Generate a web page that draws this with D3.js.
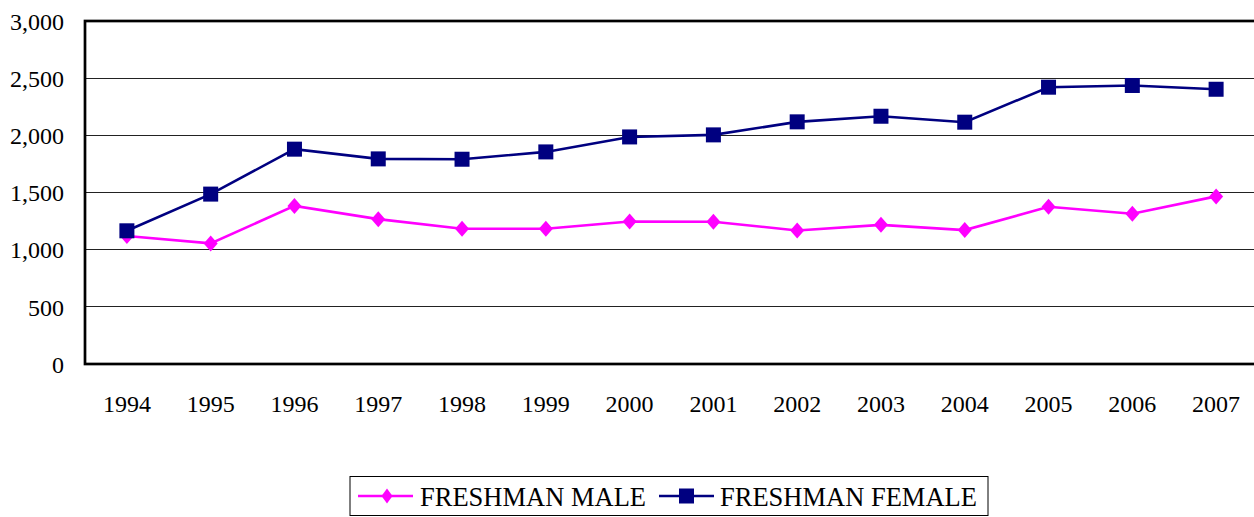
<!DOCTYPE html>
<html><head><meta charset="utf-8">
<script src="https://cdn.jsdelivr.net/npm/d3@7"></script>
<style>
html,body{margin:0;padding:0;background:#fff;overflow:hidden;}
svg{display:block;}
text{font-family:"Liberation Serif","Times New Roman",serif;fill:#000;}
</style></head>
<body>
<svg id="chart" width="1254" height="517"></svg>
<script>
const years = ["1994","1995","1996","1997","1998","1999","2000","2001","2002","2003","2004","2005","2006","2007"];
const male = [1120,1055,1383,1267,1183,1183,1247,1244,1168,1217,1171,1375,1314,1466];
const female = [1165,1486,1879,1794,1791,1855,1986,2004,2118,2167,2115,2421,2436,2403];
const yTicks = [0,500,1000,1500,2000,2500,3000];
const seriesNames = ["FRESHMAN MALE","FRESHMAN FEMALE"];

const svg = d3.select("#chart");
const L = 85, T = 21, B = 364, R = 1258;
const x = d3.scaleBand().domain(years).range([L, R]);
const y = d3.scaleLinear().domain([0,3000]).range([B, T]);
const cx = d => x(d) + x.bandwidth()/2;

// gridlines
svg.append("g").selectAll("line").data(yTicks.filter(t=>t>0 && t<3000)).join("line")
  .attr("x1", L).attr("x2", R).attr("y1", d=>y(d)).attr("y2", d=>y(d))
  .attr("stroke", "#222").attr("stroke-width", 1).attr("shape-rendering","crispEdges");

// frame
svg.append("rect").attr("x", L).attr("y", y(3000)).attr("width", R-L).attr("height", B-y(3000))
  .attr("fill","none").attr("stroke","#000").attr("stroke-width",2.7);

// y axis labels
const yAxis = d3.axisLeft(y).tickValues(yTicks).tickSize(0).tickPadding(21).tickFormat(d3.format(","));
const gy = svg.append("g").attr("transform", `translate(${L},0)`).call(yAxis);
gy.select(".domain").remove();
gy.selectAll("text").attr("font-size", 24).attr("font-family", '"Liberation Serif",serif').attr("fill","#000").attr("dy","0.34em");

// x axis labels
const xAxis = d3.axisBottom(x).tickSize(0).tickPadding(31);
const gx = svg.append("g").attr("transform", `translate(0,${B})`).call(xAxis);
gx.select(".domain").remove();
gx.selectAll("text").attr("font-size", 24).attr("font-family", '"Liberation Serif",serif').attr("fill","#000");

const line = d3.line().x((d,i)=>cx(years[i])).y(d=>y(d));
const MAG = "#ff00ff", NAVY = "#000080";

// male series
svg.append("path").datum(male).attr("d", line).attr("fill","none").attr("stroke",MAG).attr("stroke-width",2.6);
svg.append("g").selectAll("path").data(male).join("path")
  .attr("d", "M0,-8L7,0L0,8L-7,0Z")
  .attr("transform", (d,i)=>`translate(${cx(years[i])},${y(d)})`)
  .attr("fill", MAG);

// female series
svg.append("path").datum(female).attr("d", line).attr("fill","none").attr("stroke",NAVY).attr("stroke-width",2.6);
svg.append("g").selectAll("rect").data(female).join("rect")
  .attr("x", (d,i)=>cx(years[i])-7.5).attr("y", d=>y(d)-7.5)
  .attr("width",15).attr("height",15).attr("fill", NAVY);

// legend
const lg = svg.append("g");
lg.append("rect").attr("x",350).attr("y",476.5).attr("width",638).attr("height",39)
  .attr("fill","#fff").attr("stroke","#000").attr("stroke-width",1);
const ly = 496;
lg.append("line").attr("x1",358).attr("x2",413).attr("y1",ly).attr("y2",ly).attr("stroke",MAG).attr("stroke-width",2.6);
lg.append("path").attr("d","M0,-7.5L5.5,0L0,7.5L-5.5,0Z").attr("transform",`translate(387,${ly})`).attr("fill",MAG);
lg.append("text").attr("x",420).attr("y",506).attr("font-size",26.5).text(seriesNames[0]);
lg.append("line").attr("x1",659).attr("x2",714).attr("y1",ly).attr("y2",ly).attr("stroke",NAVY).attr("stroke-width",2.6);
lg.append("rect").attr("x",679).attr("y",ly-7.5).attr("width",15).attr("height",15).attr("fill",NAVY);
lg.append("text").attr("x",720).attr("y",506).attr("font-size",26.5).text(seriesNames[1]);
</script>
</body></html>
